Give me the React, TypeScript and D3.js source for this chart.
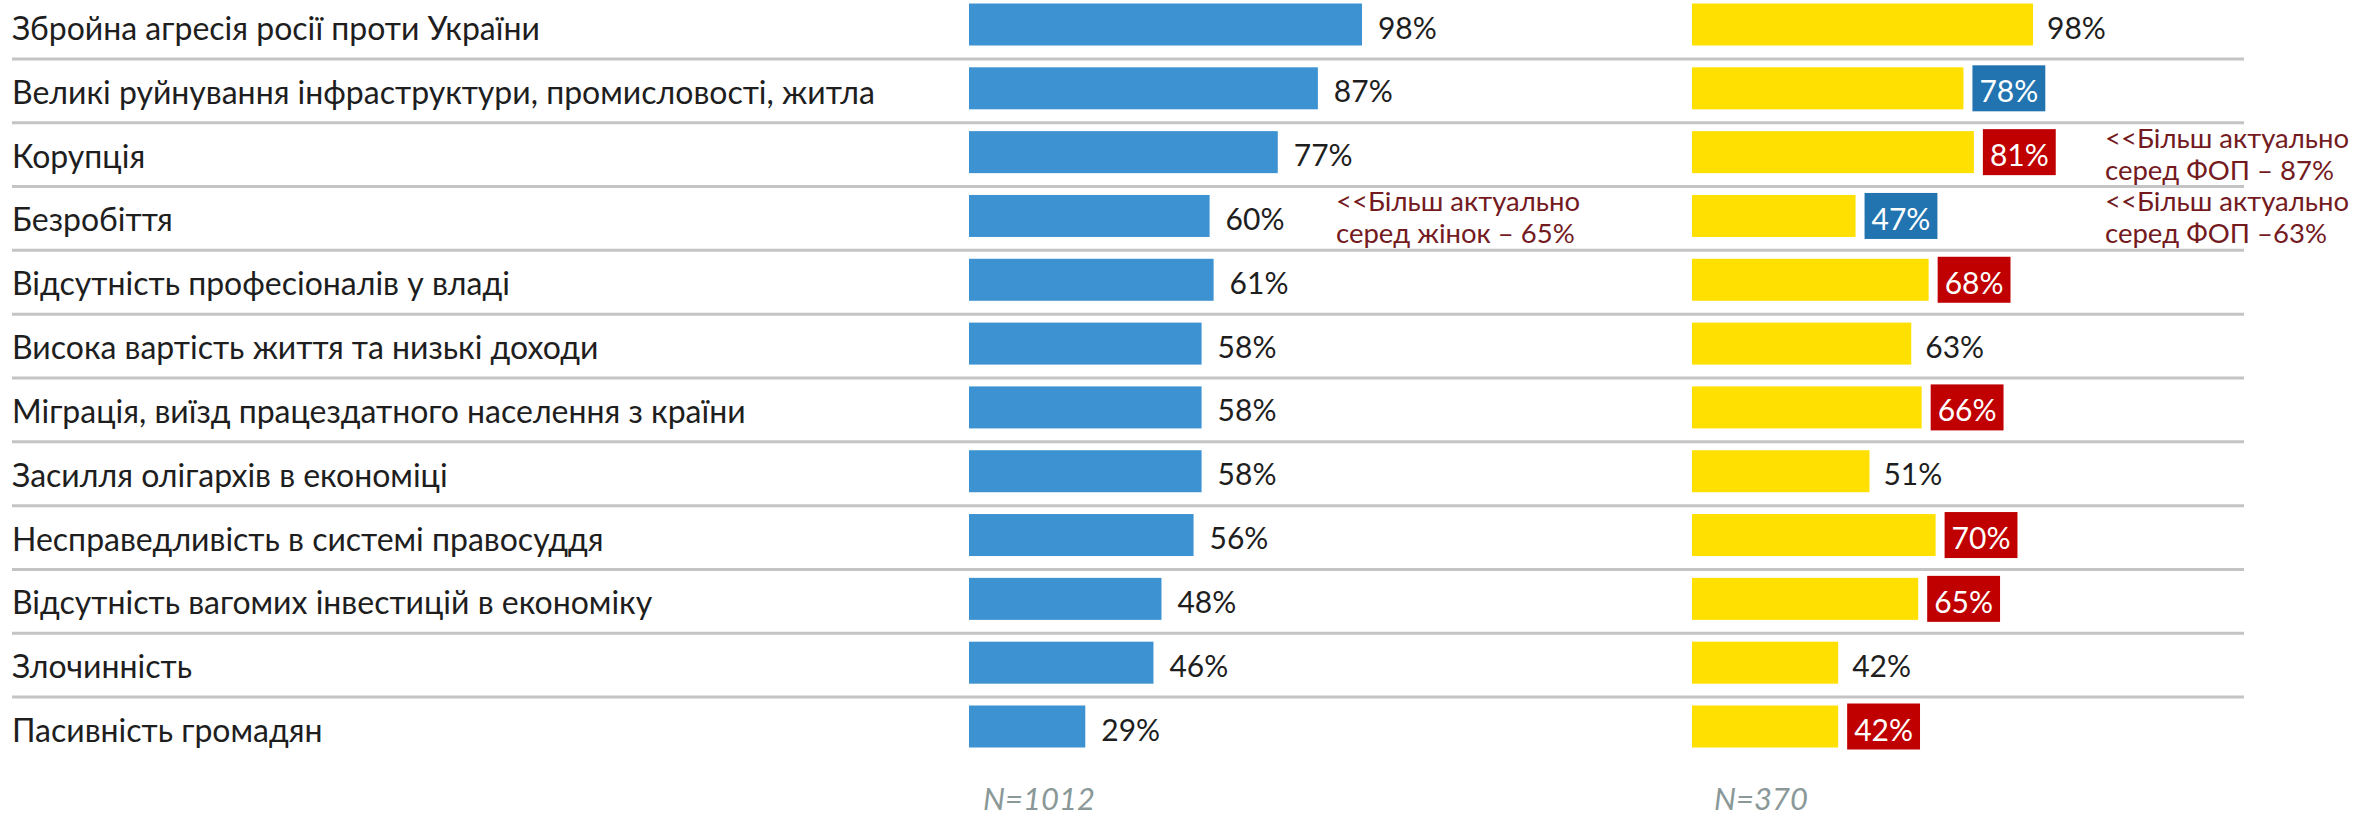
import { useEffect, useRef } from 'react';
import * as d3 from 'd3';

const categories = [
	'Збройна агресія росії проти України',
	'Великі руйнування інфраструктури, промисловості, житла',
	'Корупція',
	'Безробіття',
	'Відсутність професіоналів у владі',
	'Висока вартість життя та низькі доходи',
	'Міграція, виїзд працездатного населення з країни',
	'Засилля олігархів в економіці',
	'Несправедливість в системі правосуддя',
	'Відсутність вагомих інвестицій в економіку',
	'Злочинність',
	'Пасивність громадян',
];

const allValues = [98, 87, 77, 60, 61, 58, 58, 58, 56, 48, 46, 29];
const fopValues = [98, 78, 81, 47, 68, 63, 66, 51, 70, 65, 42, 42];
// '' = plain label, 'lower' = blue box, 'higher' = red box
const fopMarks = ['', 'lower', 'higher', 'lower', 'higher', '', 'higher', '', 'higher', 'higher', '', 'higher'];

const notes = [
	{ row: 3, column: 'all', lines: ['<<Більш актуально', 'серед жінок – 65%'] },
	{ row: 2, column: 'fop', lines: ['<<Більш актуально', 'серед ФОП – 87%'] },
	{ row: 3, column: 'fop', lines: ['<<Більш актуально', 'серед ФОП –63%'] },
];

const sampleLabels = ['N=1012', 'N=370'];

const colors = {
	all: '#3d92d1',
	fop: '#ffe000',
	lower: '#2174b0',
	higher: '#c00000',
	note: '#741b1f',
	grid: '#c4c4c4',
	text: '#1e1e1e',
	sample: '#8a9898',
};

const font = 'Lato, "Noto Sans", sans-serif';

export default function App() {
	const svgRef = useRef<SVGSVGElement>(null);
	const width = 2359;
	const height = 820;

	useEffect(() => {
		document.body.style.margin = '0';
		if (!svgRef.current) return;
		const svg = d3.select(svgRef.current);
		svg.selectAll('*').remove();

		const y = d3.scalePoint<string>().domain(categories).range([24.5, 726.5]);
		const xAll = d3.scaleLinear().domain([0, 100]).range([969, 1370]);
		const xFop = d3.scaleLinear().domain([0, 100]).range([1692, 2040]);
		const barH = 42;

		// separators
		const seps = categories.slice(1).map((c, i) => (y(categories[i])! + y(c)!) / 2 + 2.5);
		svg
			.append('g')
			.selectAll('line')
			.data(seps)
			.enter()
			.append('line')
			.attr('x1', 12)
			.attr('x2', 2244)
			.attr('y1', (d) => d)
			.attr('y2', (d) => d)
			.attr('stroke', colors.grid)
			.attr('stroke-width', 3);

		// category labels
		svg
			.append('g')
			.selectAll('text')
			.data(categories)
			.enter()
			.append('text')
			.attr('x', 12)
			.attr('y', (d) => y(d)! + 3)
			.attr('dominant-baseline', 'central')
			.attr('font-family', font)
			.attr('font-size', 32)
			.attr('fill', colors.text)
			.text((d) => d);

		// first column
		svg
			.append('g')
			.selectAll('rect')
			.data(allValues)
			.enter()
			.append('rect')
			.attr('x', xAll(0))
			.attr('y', (_, i) => y(categories[i])! - barH / 2)
			.attr('width', (d) => xAll(d) - xAll(0))
			.attr('height', barH)
			.attr('fill', colors.all);

		svg
			.append('g')
			.selectAll('text')
			.data(allValues)
			.enter()
			.append('text')
			.attr('x', (d) => xAll(d) + 16)
			.attr('y', (_, i) => y(categories[i])! + 2)
			.attr('dominant-baseline', 'central')
			.attr('font-family', font)
			.attr('font-size', 30)
			.attr('fill', colors.text)
			.text((d) => `${d}%`);

		// second column
		svg
			.append('g')
			.selectAll('rect')
			.data(fopValues)
			.enter()
			.append('rect')
			.attr('x', xFop(0))
			.attr('y', (_, i) => y(categories[i])! - barH / 2)
			.attr('width', (d) => xFop(d) - xFop(0))
			.attr('height', barH)
			.attr('fill', colors.fop);

		const fopLabels = svg
			.append('g')
			.selectAll('g')
			.data(fopValues)
			.enter()
			.append('g')
			.attr('transform', (_, i) => `translate(0,${y(categories[i])})`);

		fopLabels.each(function (d, i) {
			const g = d3.select(this);
			const mark = fopMarks[i];
			if (!mark) {
				g.append('text')
					.attr('x', xFop(d) + 14)
					.attr('y', 2)
					.attr('dominant-baseline', 'central')
					.attr('font-family', font)
					.attr('font-size', 30)
					.attr('fill', colors.text)
					.text(`${d}%`);
				return;
			}
			const box = g.append('rect');
			const t = g
				.append('text')
				.attr('y', 2)
				.attr('dominant-baseline', 'central')
				.attr('text-anchor', 'middle')
				.attr('font-family', font)
				.attr('font-size', 30)
				.attr('fill', '#ffffff')
				.text(`${d}%`);
			const tw = (t.node() as SVGTextElement).getComputedTextLength();
			const bx = xFop(d) + 9;
			const bw = tw + 14;
			box
				.attr('x', bx)
				.attr('y', -23)
				.attr('width', bw)
				.attr('height', 46)
				.attr('fill', colors[mark as 'lower' | 'higher']);
			t.attr('x', bx + bw / 2);
		});

		// notes
		notes.forEach((n) => {
			const cy = y(categories[n.row])!;
			const x = n.column === 'all' ? 1336 : 2105;
			const t = svg
				.append('text')
				.attr('font-family', font)
				.attr('font-size', 27.5)
				.attr('fill', colors.note);
			n.lines.forEach((line, li) => {
				t.append('tspan')
					.attr('x', x)
					.attr('y', cy - 15 + li * 32)
					.attr('dominant-baseline', 'central')
					.text(line);
			});
		});

		// sample sizes
		svg
			.append('g')
			.selectAll('text')
			.data(sampleLabels)
			.enter()
			.append('text')
			.attr('x', (_, i) => (i === 0 ? xAll(0) + 14 : xFop(0) + 22))
			.attr('y', 798)
			.attr('dominant-baseline', 'central')
			.attr('font-family', font)
			.attr('font-style', 'italic')
			.attr('font-size', 31)
			.attr('fill', colors.sample)
			.text((d) => d);
	}, []);

	return (
		<svg
			ref={svgRef}
			width={width}
			height={height}
			style={{ display: 'block', background: '#ffffff' }}
		/>
	);
}
